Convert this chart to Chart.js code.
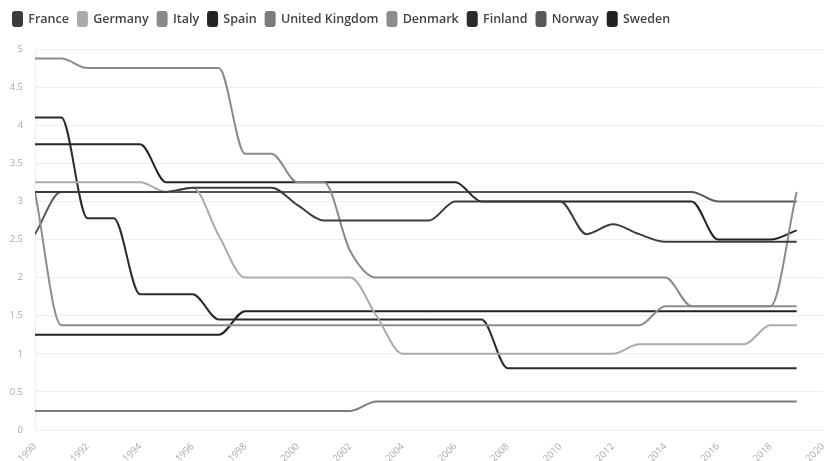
<!DOCTYPE html>
<html>
<head>
<meta charset="utf-8">
<script src="https://cdn.jsdelivr.net/npm/chart.js@4"></script>
<style>
  html, body { margin: 0; padding: 0; background: #fff; }
  #wrap { width: 834px; height: 461px; }
</style>
</head>
<body>
<div id="wrap"><canvas id="chart"></canvas></div>
<script>
const years = [1990, 1991, 1992, 1993, 1994, 1995, 1996, 1997, 1998, 1999,
  2000, 2001, 2002, 2003, 2004, 2005, 2006, 2007, 2008, 2009,
  2010, 2011, 2012, 2013, 2014, 2015, 2016, 2017, 2018, 2019];

const france = [3.125, 3.125, 3.125, 3.125, 3.125, 3.125, 3.18, 3.18, 3.18, 3.18,
  2.95, 2.75, 2.75, 2.75, 2.75, 2.75, 3.0, 3.0, 3.0, 3.0,
  3.0, 2.57, 2.7, 2.57, 2.47, 2.47, 2.47, 2.47, 2.47, 2.47];
const germany = [3.25, 3.25, 3.25, 3.25, 3.25, 3.125, 3.18, 2.55, 2.0, 2.0,
  2.0, 2.0, 2.0, 1.5, 1.0, 1.0, 1.0, 1.0, 1.0, 1.0,
  1.0, 1.0, 1.0, 1.125, 1.125, 1.125, 1.125, 1.125, 1.375, 1.375];
const italy = [4.875, 4.875, 4.75, 4.75, 4.75, 4.75, 4.75, 4.75, 3.625, 3.625,
  3.25, 3.25, 2.35, 2.0, 2.0, 2.0, 2.0, 2.0, 2.0, 2.0,
  2.0, 2.0, 2.0, 2.0, 2.0, 1.625, 1.625, 1.625, 1.625, 3.125];
const spain = [3.75, 3.75, 3.75, 3.75, 3.75, 3.25, 3.25, 3.25, 3.25, 3.25,
  3.25, 3.25, 3.25, 3.25, 3.25, 3.25, 3.25, 3.0, 3.0, 3.0,
  3.0, 3.0, 3.0, 3.0, 3.0, 3.0, 2.5, 2.5, 2.5, 2.62];
const uk = [0.25, 0.25, 0.25, 0.25, 0.25, 0.25, 0.25, 0.25, 0.25, 0.25,
  0.25, 0.25, 0.25, 0.375, 0.375, 0.375, 0.375, 0.375, 0.375, 0.375,
  0.375, 0.375, 0.375, 0.375, 0.375, 0.375, 0.375, 0.375, 0.375, 0.375];
const denmark = [3.125, 1.375, 1.375, 1.375, 1.375, 1.375, 1.375, 1.375, 1.375, 1.375,
  1.375, 1.375, 1.375, 1.375, 1.375, 1.375, 1.375, 1.375, 1.375, 1.375,
  1.375, 1.375, 1.375, 1.375, 1.625, 1.625, 1.625, 1.625, 1.625, 1.625];
const finland = [4.1, 4.1, 2.78, 2.78, 1.78, 1.78, 1.78, 1.45, 1.45, 1.45,
  1.45, 1.45, 1.45, 1.45, 1.45, 1.45, 1.45, 1.45, 0.81, 0.81,
  0.81, 0.81, 0.81, 0.81, 0.81, 0.81, 0.81, 0.81, 0.81, 0.81];
const norway = [2.57, 3.125, 3.125, 3.125, 3.125, 3.125, 3.125, 3.125, 3.125, 3.125,
  3.125, 3.125, 3.125, 3.125, 3.125, 3.125, 3.125, 3.125, 3.125, 3.125,
  3.125, 3.125, 3.125, 3.125, 3.125, 3.125, 3.0, 3.0, 3.0, 3.0];
const sweden = [1.25, 1.25, 1.25, 1.25, 1.25, 1.25, 1.25, 1.25, 1.56, 1.56,
  1.56, 1.56, 1.56, 1.56, 1.56, 1.56, 1.56, 1.56, 1.56, 1.56,
  1.56, 1.56, 1.56, 1.56, 1.56, 1.56, 1.56, 1.56, 1.56, 1.56];

const series = [
  { label: 'France', values: france, color: '#3c3c3c' },
  { label: 'Germany', values: germany, color: '#ababab' },
  { label: 'Italy', values: italy, color: '#8a8a8a' },
  { label: 'Spain', values: spain, color: '#242424' },
  { label: 'United Kingdom', values: uk, color: '#7c7c7c' },
  { label: 'Denmark', values: denmark, color: '#8c8c8c' },
  { label: 'Finland', values: finland, color: '#2c2c2c' },
  { label: 'Norway', values: norway, color: '#575757' },
  { label: 'Sweden', values: sweden, color: '#222222' },
];

const tickFont = { family: 'Open Sans', size: 9.5 };

new Chart(document.getElementById('chart'), {
  type: 'line',
  data: {
    datasets: series.map(s => ({
      label: s.label,
      data: s.values.map((v, i) => ({ x: years[i], y: v })),
      borderColor: s.color,
      backgroundColor: s.color,
      borderWidth: 2,
      pointRadius: 0,
      fill: false,
      cubicInterpolationMode: 'monotone',
    })),
  },
  options: {
    responsive: true,
    maintainAspectRatio: false,
    animation: false,
    layout: { padding: { left: 4, right: 3, top: 3, bottom: 0 } },
    plugins: {
      tooltip: { enabled: false },
      legend: {
        position: 'top',
        align: 'start',
        labels: {
          boxWidth: 9,
          boxHeight: 14,
          useBorderRadius: true,
          borderRadius: 2,
          padding: 9,
          color: '#444',
          font: { family: 'Open Sans', size: 12.5, weight: '600' },
        },
      },
    },
    scales: {
      x: {
        type: 'linear',
        min: 1990,
        max: 2020,
        grid: { display: false },
        border: { display: false },
        ticks: {
          stepSize: 2,
          color: '#aaa',
          font: tickFont,
          minRotation: 45,
          maxRotation: 45,
          callback: v => String(v),
        },
        afterFit: s => { s.height = 31; },
      },
      y: {
        min: 0,
        max: 5,
        grid: { color: '#eeeeee', drawTicks: false },
        border: { display: true, color: '#eeeeee' },
        ticks: {
          stepSize: 0.5,
          color: '#aaa',
          font: tickFont,
          padding: 12,
          callback: v => String(v),
        },
        afterFit: s => { s.width = 31; },
      },
    },
  },
  plugins: [{
    id: 'legendGap',
    beforeInit(chart) {
      const fit = chart.legend.fit;
      chart.legend.fit = function () {
        fit.bind(chart.legend)();
        this.height += 13;
      };
    },
  }],
});
</script>
</body>
</html>
